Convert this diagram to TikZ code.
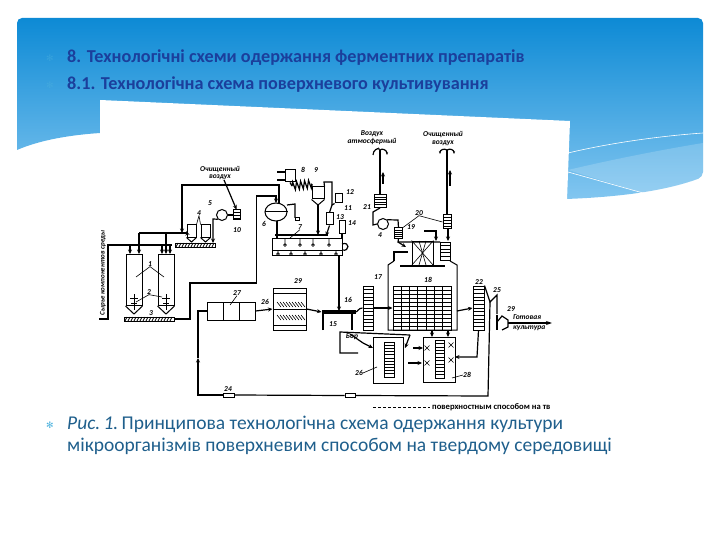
\documentclass[tikz,border=0pt]{standalone}
\usepackage{fontspec}
\setmainfont{Carlito}
\newfontfamily\symfont{DejaVu Sans}
\usetikzlibrary{positioning,arrows.meta,calc,decorations.pathmorphing,shapes.geometric}
\definecolor{slidetop}{HTML}{0D8AD5}
\definecolor{slidebot}{HTML}{82C6F0}
\definecolor{headblue}{HTML}{1B3F9C}
\definecolor{captblue}{HTML}{1F5F8C}
\definecolor{bulblue}{HTML}{4FB3DE}
\tikzset{
  blk/.style={draw, inner sep=0pt, line width=1pt},
  rack/.style 2 args={blk, path picture={
      \foreach \i in {1,...,#1} \draw[line width=0.8pt]
        ($(path picture bounding box.north west)!{\i/(#1+1)}!(path picture bounding box.south west)$)
        -- ($(path picture bounding box.north east)!{\i/(#1+1)}!(path picture bounding box.south east)$);
      \foreach \i in {1,...,#2} \draw[line width=0.8pt]
        ($(path picture bounding box.north west)!{\i/(#2+1)}!(path picture bounding box.north east)$)
        -- ($(path picture bounding box.south west)!{\i/(#2+1)}!(path picture bounding box.south east)$);
    }},
  fan/.style={blk, circle, minimum size=11pt},
  flow/.style={-{Stealth[length=4.5pt,width=4pt]}, line width=1.2pt},
  pipe/.style={line width=1.2pt},
  lead/.style={line width=0.6pt},
  lbl/.style={inner sep=0pt, font=\fontsize{7.5}{7.5}\selectfont\bfseries\itshape, align=center},
  head/.style={anchor=west, inner sep=0pt, text=headblue, font=\fontsize{18.2}{20}\selectfont\bfseries},
  capt/.style={anchor=west, inner sep=0pt, text=captblue, font=\fontsize{19.5}{22}\selectfont},
  bul/.style={inner sep=0pt, text=bulblue, font=\symfont\fontsize{9}{10}\selectfont},
}
\begin{document}
\begin{tikzpicture}[x=1pt,y=-1pt]
  \useasboundingbox (0,0) rectangle (720,540);
  % slide background
  \shade[top color=slidetop, bottom color=slidebot, rounded corners=5pt]
    (17,150) -- (17,18) -- (703,18) -- (703,177) [sharp corners]
    .. controls (665,191) and (620,197) .. (566,199) -- (100,199) -- (100,133)
    .. controls (70,135) and (40,140) .. (17,150);
  \fill[white, opacity=0.18] (568,170) .. controls (610,160) and (660,150) .. (703,143)
    -- (703,177) .. controls (685,184) and (665,189) .. (643,193) -- cycle;
  \draw[white, line width=0.6pt] (568,153) .. controls (610,143) and (660,136) .. (703,133);
  \draw[white, line width=0.6pt] (568,172) -- (643,193);
  \fill[white] (100,100) -- (570,121) -- (567,200) -- (100,200) -- cycle;

  \node[head] (titlea) at (67,58) {8. Технологічні схеми одержання ферментних препаратів};
  \node[head] (titleb) at (67,85) {8.1. Технологічна схема поверхневого культивування};
  \node[bul, opacity=0.4] (bula) at (50,58) {✻};
  \node[bul, opacity=0.4] (bulb) at (50,85) {✻};
  \node[bul] (bulc) at (50,425) {✻};
  \node[capt] (capa) at (67,424) {\textit{Рис.\,1.}\,Принципова технологічна схема одержання культури};
  \node[capt] (capb) at (67,446) {мікроорганізмів поверхневим способом на твердому середовищі};

  % silos and feed
  \node[blk, minimum width=16pt, minimum height=51pt] (siloa) at (134,280) {};
  \node[blk, minimum width=16pt, minimum height=51pt] (silob) at (166,280) {};
  \draw[blk] (siloa.south west) -- (134,314) -- (siloa.south east);
  \draw[blk] (silob.south west) -- (166,314) -- (silob.south east);
  \foreach \x in {134,166} {
    \draw[blk] (\x,294) -- (\x,310);
    \draw[blk] (\x-4,298) -- (\x+4,298);
    \draw[blk] (\x-3,303) -- (\x+3,303);
  }
  \node[blk, minimum width=50pt, minimum height=4pt] (convc) at (149,319) {};
  \foreach \x in {125,128,...,172} \draw[line width=0.8pt] (\x,321) -- ++(2,-4);
  \node[lbl, rotate=90, font=\fontsize{7}{7}\selectfont\bfseries\itshape] (rawtxt) at (103,273) {Сырье компонентов среды};
  \coordinate (feedfoot) at (99,319);
  \coordinate (feedtop) at (108,245);
  \coordinate (feedend) at (172,245);
  \draw[pipe] (feedfoot) -| (feedtop) -- (feedend);
  \draw[flow] (130,245) -- (130,254);
  \draw[flow] (162,245) -- (162,254);
  \draw[flow] (170,245) -- (170,254);
  \coordinate (gluea) at (139,233);
  \coordinate (glueb) at (166,233);
  \draw[flow] (gluea) -- (139,254);
  \draw[flow] (glueb) -- (166,254);

  % hoppers, blower, filter
  \node[blk, minimum width=9pt, minimum height=12pt] (hopa) at (191.5,231) {};
  \node[blk, minimum width=9pt, minimum height=12pt] (hopb) at (205.5,231) {};
  \draw[blk] (hopa.south west) -- (191.5,242) -- (hopa.south east);
  \draw[blk] (hopb.south west) -- (205.5,242) -- (hopb.south east);
  \node[blk, minimum width=40pt, minimum height=4pt] (convd) at (195,245) {};
  \foreach \x in {176,179,...,213} \draw[line width=0.8pt] (\x,247) -- ++(2,-4);
  \node[fan] (blowa) at (222,215) {};
  \node[blk, minimum width=7pt, minimum height=10pt] (filtj) at (236.5,215) {};
  \foreach \y in {212,215,218} \draw[lead] (233,\y) -- (240,\y);
  \coordinate (airpt) at (224,180);
  \draw[flow] (airpt) -- (filtj.north);
  \draw[pipe] (filtj.west) -- (blowa.east);
  \draw[flow] (blowa.south west) -- (213,219) -- (213,243);

  % main pipes
  \node[blk, ellipse, minimum width=22pt, minimum height=18pt] (sepf) at (276,212) {};
  \draw[blk] (sepf.west) -- (sepf.east);
  \coordinate (toppipe) at (182,185);
  \draw[flow] (279,203) -- (279,185) -- (toppipe) -- (182,233);
  \draw[pipe] (gluea) -- (187,233);
  \draw[flow] (187,233) -- (hopa.west);
  \coordinate (retpipe) at (256.5,196);
  \draw[flow] (convc.east) -- (190,319) -- (190,283) -- (256.5,283) -- (retpipe) -- (276,196) -- (276,203);
  \draw[pipe] (287,205) -- (295,204) -- (295,218);
  \node[blk, minimum width=4pt, minimum height=3pt] (stub) at (297,219) {};

  % vat, coil and small units
  \node[blk, minimum width=70pt, minimum height=17pt] (vatg) at (307,246.5) {};
  \draw[blk] (272,250) -- (342,250);
  \foreach \x in {285,300,313,329} \draw[lead] (\x,238) -- (\x,245) circle (1.5pt);
  \foreach \x in {278,291,305,321,336} \draw[lead] (\x,250) -- (\x,254) circle (1.5pt);
  \draw[pipe] (277,221) -- (277,238);
  \draw[pipe] (275,235) -- (328,235);
  \draw[pipe] (342,244) .. controls (350,241) and (350,252) .. (342,250);
  \node[blk, minimum width=10pt, minimum height=12pt] (condh) at (290,176) {};
  \coordinate (airb) at (277,172);
  \coordinate (airc) at (277,180);
  \draw[pipe] (airb) -- (condh.west |- airb);
  \draw[pipe] (airc) -- (condh.west |- airc);
  \coordinate (coilin) at (292,186);
  \coordinate (coilout) at (312,184);
  \draw[pipe, decorate, decoration={zigzag, amplitude=4pt, segment length=4pt}] (coilin) -- (coilout);
  \draw[pipe] (condh.south) -- (coilin);
  \node[blk, minimum width=12pt, minimum height=12pt] (tanki) at (318,193) {};
  \draw[blk] (tanki.south west) -- (318,205) -- (tanki.south east);
  \draw[pipe] (coilout) -- (tanki.north west);
  \draw[pipe] (tanki.north east) -- (324,182) -- (332,182) -- (332,205);
  \draw[flow] (318,205) -- (318,235);
  \node[blk, minimum width=7pt, minimum height=9pt] (unitl) at (338.5,198.5) {};
  \node[blk, minimum width=7pt, minimum height=12pt] (unitm) at (329.5,219) {};
  \node[blk, minimum width=6pt, minimum height=12pt] (unitn) at (342,227) {};
  \draw[pipe] (332,205) -- (unitl.south west);
  \draw[pipe] (332,205) -- (unitm.north);
  \draw[flow] (unitm.south) -- (326,236);
  \draw[pipe] (unitn.south) -- (342,238);
  \coordinate (vatout) at (339,311);
  \draw[flow] (339,255) -- (vatout);

  % air line right
  \coordinate (stacka) at (380,150);
  \coordinate (stackb) at (447,150);
  \draw[line width=2.2pt] (stacka) -- (380,194);
  \draw[line width=2.2pt] (stackb) -- (447,215);
  \draw[pipe, -{Stealth[length=3pt]}] (373,155) .. controls (373,150) and (378,148) .. (stacka);
  \draw[pipe, {Stealth[length=3pt]}-] (387,155) .. controls (387,150) and (382,148) .. (stacka);
  \draw[pipe, {Stealth[length=3pt]}-] (440,154) .. controls (440,150) and (444,148) .. (stackb);
  \draw[pipe, {Stealth[length=3pt]}-] (454,154) .. controls (454,150) and (450,148) .. (stackb);
  \node[rack={4}{0}, minimum width=12pt, minimum height=13pt] (filtu) at (380,201) {};
  \node[fan] (blowv) at (383,224) {};
  \node[rack={4}{0}, minimum width=8pt, minimum height=10pt] (filtw) at (398.5,233) {};
  \node[rack={4}{0}, minimum width=8pt, minimum height=14pt] (filtx) at (447,222) {};
  \draw[pipe] (filtu.south) -- (373,212) -- (373,225) -- (blowv.west);
  \draw[pipe] (blowv.north east) -- (398,220) -- (filtw.north);
  \draw[flow] (383,184) -- (383,172);
  \draw[flow] (450,186) -- (450,170);
  \draw[flow] (448,229) -- (448,241);

  % chamber with crossed packing
  \node[blk, minimum width=21pt, minimum height=24pt] (packy) at (422.5,253) {};
  \draw[lead] (packy.north west) -- (packy.south east);
  \draw[lead] (packy.south west) -- (packy.north east);
  \draw[lead] (419,241) -- (426,265);
  \draw[lead] (426,241) -- (419,265);
  \node[rack={4}{0}, minimum width=10pt, minimum height=18pt] (packz) at (445,251) {};
  \draw[pipe] (filtw.south) -- (398,242) -- (440,242);
  \draw[pipe] (394,261) -- (394,252) -- (408,252);
  \draw[flow] (398,242) -- (406,247);
  \draw[flow] (434,231) -- (436,231) -- (436,241);
  \draw[pipe] (424,231) -- (434,231);
  \draw[pipe] (400,266) -- (445,266);
  \draw[line width=1pt] (394,261) -- (388,265) -- (388,330) -- (457,330) -- (457,265) -- (450,261);
  \node[rack={10}{6}, minimum width=58pt, minimum height=44pt] (shelfr) at (422,308) {};
  \node[rack={11}{0}, minimum width=10pt, minimum height=44pt] (rackq) at (368,308) {};
  \node[rack={11}{0}, minimum width=11pt, minimum height=44pt] (racks) at (478.5,308) {};
  \draw[flow] (rackq.east) -- (shelfr.west);
  \draw[flow] (457,311) -- (racks.west);

  % table, dryer, tray unit
  \node[blk, minimum width=33pt, minimum height=2.5pt, fill=black] (tablep) at (338.5,312) {};
  \coordinate (tablel) at (323,330);
  \coordinate (tabler) at (352,330);
  \draw[pipe] (tablel) -- (tablel |- tablep.south);
  \draw[pipe] (tabler) -- (tabler |- tablep.south);
  \draw[pipe] (tablep.east) .. controls (358,312) and (358,308) .. (rackq.west);
  \node[blk, minimum width=33pt, minimum height=42pt] (dryer) at (289.5,309) {};
  \foreach \y in {293,309,325} \draw[blk] (273,\y) -- (306,\y);
  \foreach \x in {277,280,...,302} {
    \draw[lead] (\x,302) -- ++(4,5);
    \draw[lead] (\x,315) -- ++(4,5);
  }
  \node[rack={0}{2}, minimum width=48pt, minimum height=18pt] (boxaa) at (231,311) {};
  \draw[flow] (boxaa.east) -- (dryer.west);
  \draw[flow] (dryer.east) -- (tablep.west);

  % lower cabinets
  \node[blk, minimum width=30pt, minimum height=46pt] (cabbb) at (388,360) {};
  \node[rack={10}{0}, minimum width=10pt, minimum height=35pt] (inbb) at (389,359.5) {};
  \node[blk, minimum width=32pt, minimum height=45pt] (cabcc) at (439,359.5) {};
  \node[rack={10}{0}, minimum width=9pt, minimum height=38pt] (incc) at (439.5,359) {};
  \coordinate (bara) at (340,332);
  \coordinate (barb) at (410,335);
  \coordinate (barc) at (358,353);
  \draw[pipe] (barc) -- (340,353) -- (bara) -- (barb);
  \draw[pipe] (350,334) -- (363,343);
  \draw[flow] (363,343) -- (373,348);
  \draw[flow] (410,335) -- (405,348);
  \draw[flow] (413,348) -- (423,348);
  \draw[flow] (408,363) -- (422,363);
  \draw[flow] (432,330) -- (432,337);
  \draw[flow] (448,330) -- (448,337);
  \foreach \x/\y in {427/348,427/363,451/345,451/360} {
    \draw[lead] (\x-2.5,\y-2.5) -- (\x+2.5,\y+2.5);
    \draw[lead] (\x-2.5,\y+2.5) -- (\x+2.5,\y-2.5);
  }
  \draw[flow] (racks.south) -- (477,357) -- (455,357);

  % product outlet and return
  \coordinate (outa) at (490,302);
  \draw[pipe] (racks.north east) -- (outa) -- (497,295) -- (497,314);
  \draw[pipe] (497,315) -- (497,330);
  \draw[pipe] (497,322) -- (502,316) -- (508,320) -- (508,327) -- (502,330);
  \coordinate (outend) at (552,323);
  \draw[-{Stealth[length=6pt,width=4pt]}, pipe] (508,323) -- (outend);
  \node[blk, minimum width=11pt, minimum height=4pt] (boxdd) at (228.5,395) {};
  \node[blk, minimum width=10pt, minimum height=4pt] (boxee) at (350,395.5) {};
  \draw[pipe] (outa) -- (488,396) -- (boxee.east);
  \draw[pipe] (boxee.west) -- (boxdd.east);
  \draw[flow] (boxdd.west) -- (198,395) -- (198,358);
  \draw[pipe] (198,358) -- (198,311) -- (boxaa.west);

  % numbers
  \node[lbl] (airlf) at (220,173) {Очищенный\\воздух};
  \node[lbl] (airtop) at (372,137.5) {Воздух\\атмосферный};
  \node[lbl] (airex) at (443,138.5) {Очищенный\\воздух};
  \node[lbl] (barl) at (352,337) {Бор};
  \node[lbl, anchor=west] (prodl) at (513,317) {Готовая};
  \node[lbl, anchor=west] (prodm) at (513,328) {культура};
  \node[lbl] (laba) at (150,264) {1};
  \node[lbl] (labb) at (149,292) {2};
  \node[lbl] at (151,313) {3};
  \node[lbl] (labd) at (199,213) {4};
  \node[lbl] at (210,203) {5};
  \node[lbl] at (264,224) {6};
  \node[lbl] (labg) at (300,227) {7};
  \node[lbl] at (303,170) {8};
  \node[lbl] at (316,170) {9};
  \node[lbl] at (237,230) {10};
  \node[lbl] at (348,208) {11};
  \node[lbl] at (350,192) {12};
  \node[lbl] at (340,217) {13};
  \node[lbl] at (352,223) {14};
  \node[lbl] at (333,324) {15};
  \node[lbl] at (348,300) {16};
  \node[lbl] at (378,277) {17};
  \node[lbl] at (428,280) {18};
  \node[lbl] at (411,227) {19};
  \node[lbl] (labt) at (419,213) {20};
  \node[lbl] at (367,207) {21};
  \node[lbl] at (479,282) {22};
  \node[lbl] at (511,309) {29};
  \node[lbl] at (497,290) {25};
  \node[lbl] at (380,235) {4};
  \node[lbl] (labaa) at (237,293) {27};
  \node[lbl] at (265,302) {26};
  \node[lbl] at (298,281) {29};
  \node[lbl] at (228,389) {24};
  \node[lbl] (labbb) at (359,373) {26};
  \node[lbl] (labcc) at (467,375) {28};
  \draw[lead] (labd.south) -- (hopa.north east);
  \draw[lead] (labd.south) -- (hopb.north west);
  \draw[lead] (labg.south) -- (290,238);
  \draw[lead] (labt.south) -- (filtw.north east);
  \draw[lead] (labt.south) -- (filtx.west);
  \draw[lead] (labaa.south) -- (230,305);
  \draw[lead] (labbb.east) -- (377,367);
  \draw[lead] (labcc.west) -- (452,378);
  \draw[lead] (laba.south) -- (136,277);
  \draw[lead] (laba.south) -- (164,277);
  \draw[lead] (labb.south) -- (136,302);
  \draw[lead] (labb.south) -- (162,297);

  % cut-off line of the scan
  \draw[lead, densely dashed] (373,407) -- (430,407);
  \node[lbl, anchor=west, font=\fontsize{8.6}{9}\selectfont\bfseries] (cuttxt) at (432,407) {поверхностным способом на тв};
\end{tikzpicture}
\end{document}
